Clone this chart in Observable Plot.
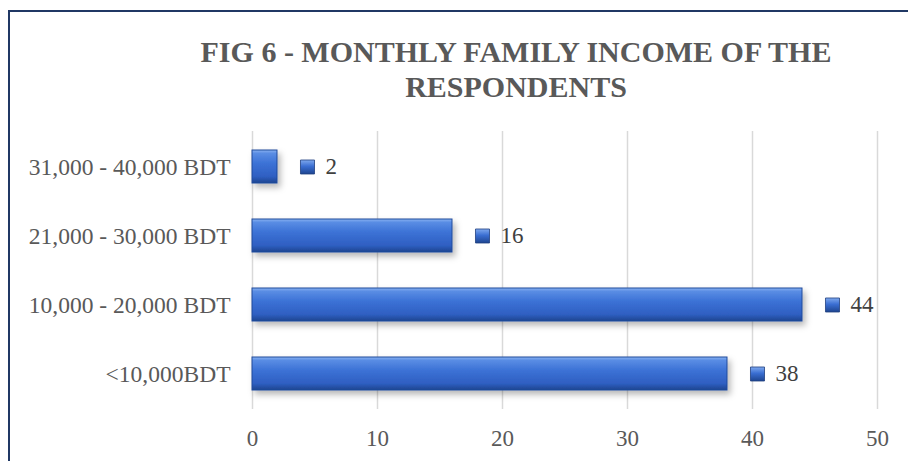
<!DOCTYPE html>
<html><head><meta charset="utf-8">
<script src="https://cdn.jsdelivr.net/npm/d3@7"></script>
<script src="https://cdn.jsdelivr.net/npm/@observablehq/plot@0.6"></script>
<style>
html,body{margin:0;padding:0;background:#fff;overflow:hidden;width:908px;height:461px;}
#chart{position:absolute;left:0;top:0;}
#chart svg text{font-family:"Liberation Serif",serif;}
#frame{position:absolute;left:8px;top:10px;width:1000px;height:600px;border:2px solid #203864;box-sizing:border-box;pointer-events:none;}
#title{position:absolute;left:116px;top:34px;width:800px;text-align:center;font-family:"Liberation Serif",serif;font-weight:bold;font-size:30px;line-height:35px;color:#595959;}
</style>
</head><body>
<div id="chart"></div>
<div id="title"></div>
<div id="frame"></div>
<script>
const categories = ["31,000 - 40,000 BDT", "21,000 - 30,000 BDT", "10,000 - 20,000 BDT", "<10,000BDT"];
const values = [2, 16, 44, 38];
const xTicks = [0, 10, 20, 30, 40, 50];
const titleLines = ["FIG 6 - MONTHLY FAMILY INCOME OF THE", "RESPONDENTS"];

const data = categories.map((c, i) => ({category: c, value: values[i]}));

document.getElementById("title").innerHTML = titleLines.join("<br>");

const serif = '"Liberation Serif", serif';

const chart = Plot.plot({
  width: 908, height: 461,
  marginLeft: 252, marginRight: 31, marginTop: 131, marginBottom: 52,
  style: {background: "transparent", fontFamily: serif, fontSize: "23px", color: "#595959", overflow: "visible"},
  x: {domain: [0, 50], label: null},
  y: {domain: categories, paddingInner: 0.525, paddingOuter: 0.27, label: null},
  marks: [
    Plot.gridX(xTicks, {stroke: "#D9D9D9", strokeWidth: 1.5, strokeOpacity: 1}),
    Plot.axisX({ticks: xTicks, tickSize: 0, tickPadding: 20, fontSize: 23, fontFamily: serif, fill: "#595959", label: null}),
    Plot.axisY({tickSize: 0, tickPadding: 22, fontSize: 23.5, fontFamily: serif, fill: "#595959", label: null}),
    Plot.barX(data, {x: "value", y: "category", fill: "url(#barGrad)", stroke: "#1F4A9C", strokeWidth: 1}),
    Plot.dot(data, {x: "value", y: "category", dx: 30, symbol: "square", r: 7.9, fill: "url(#mkGrad)", stroke: "#1F3F7F", strokeWidth: 0.8}),
    Plot.text(data, {x: "value", y: "category", text: d => String(d.value), dx: 48, textAnchor: "start", fontSize: 23, fontFamily: serif, fill: "#404040"})
  ]
});

const defs = document.createElementNS("http://www.w3.org/2000/svg", "defs");
defs.innerHTML = `
<linearGradient id="barGrad" x1="0" y1="0" x2="0" y2="1">
  <stop offset="0" stop-color="#8AB3F2"/>
  <stop offset="0.1" stop-color="#5A8DE4"/>
  <stop offset="0.4" stop-color="#3C72D6"/>
  <stop offset="0.8" stop-color="#2F5FC2"/>
  <stop offset="1" stop-color="#1E4590"/>
</linearGradient>
<linearGradient id="mkGrad" x1="0" y1="0" x2="0" y2="1">
  <stop offset="0" stop-color="#7FA9EE"/>
  <stop offset="0.45" stop-color="#3A6ED2"/>
  <stop offset="1" stop-color="#1E4590"/>
</linearGradient>
<filter id="shadow" x="-10%" y="-30%" width="130%" height="190%">
  <feDropShadow dx="3" dy="4" stdDeviation="3" flood-color="#000" flood-opacity="0.28"/>
</filter>`;
chart.insertBefore(defs, chart.firstChild);
const barG = chart.querySelector('g[aria-label="bar"]');
if (barG) barG.setAttribute("filter", "url(#shadow)");

document.getElementById("chart").appendChild(chart);
</script>
</body></html>
